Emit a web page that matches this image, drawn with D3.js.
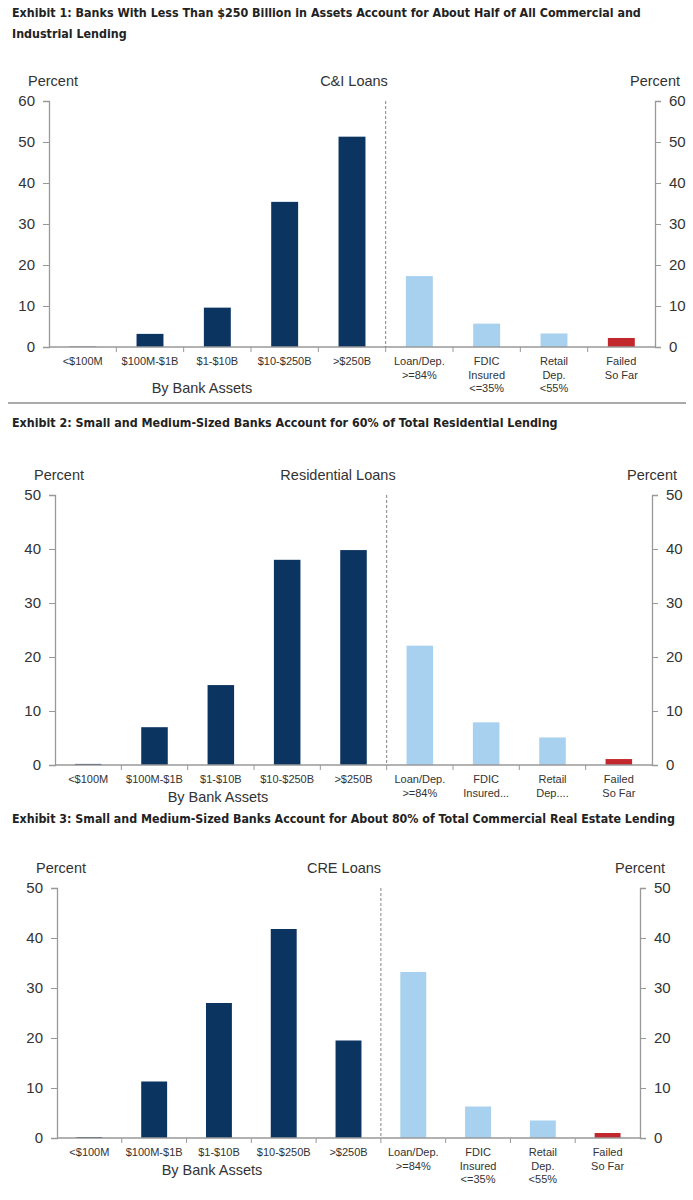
<!DOCTYPE html>
<html lang="en">
  <head>
    <meta charset="utf-8" />
    <title>Bank lending exhibits</title>
    <script src="https://cdn.jsdelivr.net/npm/d3@7"></script>
    <style>
      body { margin: 0; background: #fff; }
      svg text { font-family: "Liberation Sans", Arial, sans-serif; fill: #333; }
      .title { font-family: "DejaVu Sans Condensed", "Liberation Sans", sans-serif !important; font-weight: bold; fill: #222 !important; }
    </style>
  </head>
  <body>
    <script>
// categories
const bankCats = ["<$100M", "$100M-$1B", "$1-$10B", "$10-$250B", ">$250B"];
const riskCatsFull = [["Loan/Dep.", ">=84%"], ["FDIC", "Insured", "<=35%"], ["Retail", "Dep.", "<55%"], ["Failed", "So Far"]];
const riskCatsShort = [["Loan/Dep.", ">=84%"], ["FDIC", "Insured..."], ["Retail", "Dep...."], ["Failed", "So Far"]];

// values, percent
const ciValues = [0.1, 3.2, 9.6, 35.4, 51.3, 17.3, 5.7, 3.3, 2.2];
const resValues = [0.2, 7.0, 14.8, 38.0, 39.8, 22.1, 7.9, 5.1, 1.1];
const creValues = [0.2, 11.3, 27.0, 41.8, 19.5, 33.2, 6.3, 3.5, 1.0];

const ciTicks = [0, 10, 20, 30, 40, 50, 60];
const resTicks = [0, 10, 20, 30, 40, 50];
const creTicks = [0, 10, 20, 30, 40, 50];

const titles = [
  ["Exhibit 1: Banks With Less Than $250 Billion in Assets Account for About Half of All Commercial and", "Industrial Lending"],
  ["Exhibit 2: Small and Medium-Sized Banks Account for 60% of Total Residential Lending"],
  ["Exhibit 3: Small and Medium-Sized Banks Account for About 80% of Total Commercial Real Estate Lending"]
];
const chartNames = ["C&I Loans", "Residential Loans", "CRE Loans"];

const navy = "#0b3461", light = "#a8d0ef", red = "#c1272d";

const W = 693, H = 1200;
const svg = d3.select("body").append("svg").attr("width", W).attr("height", H);

function barColor(i) {
  if (i < 5) return navy;
  if (i === 8) return red;
  return light;
}

function panel(opt) {
  const g = svg.append("g");
  const n = opt.values.length;

  // titles: pick a font size so the first line fits the reference width
  let size = 13.5;
  opt.title.forEach((t, i) => {
    const tx = g.append("text").attr("class", "title")
      .attr("x", 12).attr("y", opt.titleY + i * 21)
      .attr("font-size", size)
      .text(t);
    if (i === 0) {
      size = Math.min(13.5, 13.5 * opt.titleW / tx.node().getComputedTextLength());
      tx.attr("font-size", size);
    }
  });

  const x = d3.scaleBand().domain(d3.range(n))
      .range([opt.x0, opt.x1]).paddingInner(0.6).paddingOuter(0.3);
  const y = d3.scaleLinear().domain([0, d3.max(opt.ticks)]).range([opt.y0, opt.y1]);

  // header labels
  g.append("text").attr("x", opt.x0 - 21).attr("y", y(d3.max(opt.ticks)) - 15)
    .attr("font-size", 14.5).text("Percent");
  g.append("text").attr("x", opt.x1 + 25).attr("y", y(d3.max(opt.ticks)) - 15)
    .attr("font-size", 14.5).attr("text-anchor", "end").text("Percent");
  g.append("text").attr("x", opt.nameX).attr("y", y(d3.max(opt.ticks)) - 15)
    .attr("font-size", 14.5).attr("text-anchor", "middle").text(opt.name);

  // y axes
  const left = g.append("g").attr("transform", `translate(${opt.x0},0)`)
    .call(d3.axisLeft(y).tickValues(opt.ticks).tickSizeOuter(0).tickSize(6).tickPadding(8));
  const right = g.append("g").attr("transform", `translate(${opt.x1},0)`)
    .call(d3.axisRight(y).tickValues(opt.ticks).tickSizeOuter(0).tickSize(6).tickPadding(8));
  [left, right].forEach(a => {
    a.select(".domain").attr("stroke", "#999").attr("stroke-width", 1.3);
    a.selectAll(".tick line").attr("stroke", "#999");
    a.selectAll(".tick text").attr("font-size", 15).attr("font-family", "Liberation Sans, Arial, sans-serif").attr("fill", "#333");
  });

  // bars
  g.append("g").selectAll("rect")
    .data(opt.values)
    .join("rect")
      .attr("x", (d, i) => x(i))
      .attr("width", x.bandwidth())
      .attr("y", d => y(d))
      .attr("height", d => y(0) - y(d))
      .attr("fill", (d, i) => barColor(i));

  // x axis line and band ticks
  const step = x.step();
  g.append("line").attr("x1", opt.x0).attr("x2", opt.x1)
    .attr("y1", y(0)).attr("y2", y(0)).attr("stroke", "#999").attr("stroke-width", 1.3);
  g.append("g").selectAll("line")
    .data(d3.range(1, n))
    .join("line")
      .attr("x1", i => x(i) - step * 0.3).attr("x2", i => x(i) - step * 0.3)
      .attr("y1", y(0)).attr("y2", y(0) + 5)
      .attr("stroke", "#999");

  // dashed divider
  const divX = x(5) - step * 0.3;
  g.append("line").attr("x1", divX).attr("x2", divX)
    .attr("y1", y(d3.max(opt.ticks))).attr("y2", y(0))
    .attr("stroke", "#666").attr("stroke-dasharray", "3,2").attr("stroke-width", 0.8);

  // category labels
  const labels = bankCats.map(c => [c]).concat(opt.risk);
  const lab = g.append("g").selectAll("text")
    .data(labels)
    .join("text")
      .attr("font-size", 11)
      .attr("text-anchor", "middle")
      .attr("x", (d, i) => x(i) + x.bandwidth() / 2)
      .attr("y", y(0) + 18);
  lab.selectAll("tspan")
    .data(d => d)
    .join("tspan")
      .attr("x", function() { return d3.select(this.parentNode).attr("x"); })
      .attr("dy", (d, i) => i ? 13.5 : 0)
      .text(d => d);

  g.append("text").attr("x", opt.bankX).attr("y", y(0) + opt.bankDy)
    .attr("font-size", 14.5).attr("text-anchor", "middle").text("By Bank Assets");
}

panel({ title: titles[0], titleY: 17, titleW: 630, name: chartNames[0], nameX: 354,
  values: ciValues, ticks: ciTicks, risk: riskCatsFull,
  x0: 49, x1: 655, y0: 347, y1: 101, bankX: 202, bankDy: 46 });

svg.append("line").attr("x1", 8).attr("x2", 686).attr("y1", 403).attr("y2", 403)
  .attr("stroke", "#aaa").attr("stroke-width", 2);

panel({ title: titles[1], titleY: 427, titleW: 546, name: chartNames[1], nameX: 338,
  values: resValues, ticks: resTicks, risk: riskCatsShort,
  x0: 55, x1: 652, y0: 765, y1: 495, bankX: 218, bankDy: 37 });

panel({ title: titles[2], titleY: 823, titleW: 663, name: chartNames[2], nameX: 344,
  values: creValues, ticks: creTicks, risk: riskCatsFull,
  x0: 57, x1: 640, y0: 1138, y1: 888, bankX: 212, bankDy: 37 });
    </script>
  </body>
</html>
